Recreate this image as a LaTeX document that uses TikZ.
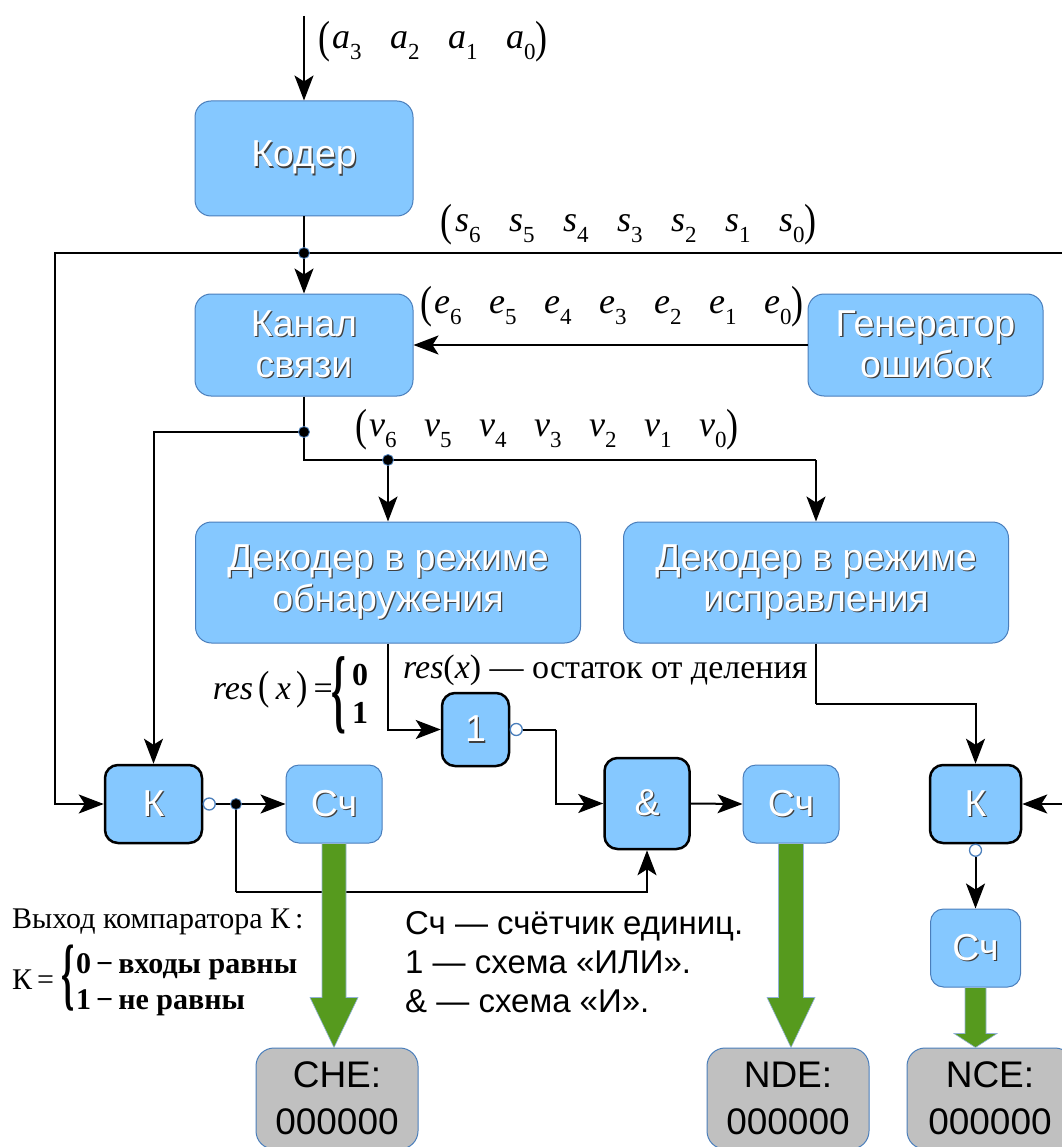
\documentclass[tikz,border=0pt]{standalone}
\usepackage{fontspec}
\usepackage{graphicx}
\setmainfont{Liberation Serif}
\newfontfamily\sansf{Liberation Sans}
\usetikzlibrary{arrows.meta,calc}
\definecolor{boxblue}{RGB}{133,200,255}
\definecolor{boxedge}{RGB}{74,126,187}
\definecolor{arrgreen}{RGB}{86,154,30}
\definecolor{cntgray}{RGB}{192,192,192}
\newcommand\sh[1]{\makebox[0pt][l]{\kern1.3pt\raisebox{-1.3pt}{\color{black!75}#1}}\textcolor{white}{#1}}
\newcommand\vsub[2]{\textit{#1}\raisebox{-0.3em}{\fontsize{23}{23}\selectfont #2}}
\newcommand\lpr{\raisebox{-0.12em}{\scalebox{1}[1.25]{(}}}
\newcommand\rpr{\raisebox{-0.12em}{\scalebox{1}[1.25]{)}}}
\newcommand\itm[3]{\makebox[#1][l]{\vsub{#2}{#3}}}
\begin{document}
\begin{tikzpicture}[x=1pt,y=-1pt,
  box/.style={rounded corners=16pt, fill=boxblue, draw=boxedge, line width=1pt,
    font=\sansf\fontsize{37.5}{41}\selectfont, align=center, inner sep=0pt},
  gate/.style={box, rounded corners=13pt, draw=black, line width=2.5pt},
  smallbox/.style={box, rounded corners=13pt},
  cnt/.style={rounded corners=18pt, fill=cntgray, draw=boxedge, line width=1pt,
    font=\sansf\fontsize{37}{47}\selectfont, align=center, inner sep=0pt},
  wire/.style={line width=2pt},
  arr/.style={wire, -{Stealth[length=25pt,width=19pt,inset=6pt]}},
  dot/.style={circle, fill=black, draw=boxedge, line width=0.8pt, inner sep=0pt, minimum size=11pt},
  inv/.style={circle, fill=white, draw=boxedge, line width=1.3pt, inner sep=0pt, minimum size=12pt},
  garrow/.style={fill=arrgreen, draw=boxedge!60, line width=0.6pt},
  lbl/.style={inner sep=0pt, font=\fontsize{36}{36}\selectfont},
  brace/.style={inner sep=0pt}
]
\useasboundingbox (0,0) rectangle (1061,1147);

% blocks
\node[box, minimum width=218pt, minimum height=115pt] (cod) at (304,158.5) {\sh{Кодер}};
\node[box, minimum width=218pt, minimum height=102pt] (chan) at (304,345) {\sh{Канал}\\\sh{связи}};
\node[box, minimum width=235pt, minimum height=102pt] (gen) at (925.5,345) {\sh{Генератор}\\\sh{ошибок}};
\node[box, minimum width=385pt, minimum height=121pt] (ddet) at (388,582.5) {\sh{Декодер в режиме}\\\sh{обнаружения}};
\node[box, minimum width=385pt, minimum height=121pt] (dcor) at (816,582.5) {\sh{Декодер в режиме}\\\sh{исправления}};
\node[gate, minimum width=97pt, minimum height=78pt] (k1) at (153.5,804) {\sh{К}};
\node[smallbox, minimum width=96pt, minimum height=78pt] (c1) at (334,804) {\sh{Сч}};
\node[gate, minimum width=67pt, minimum height=73pt] (or) at (475.5,729.5) {\sh{1}};
\node[gate, minimum width=85pt, minimum height=91pt] (and) at (647,803.5) {\sh{\&}};
\node[smallbox, minimum width=96pt, minimum height=78pt] (c2) at (791,804) {\sh{Сч}};
\node[gate, minimum width=91pt, minimum height=78pt] (k2) at (975.5,804) {\sh{К}};
\node[smallbox, minimum width=90pt, minimum height=78pt] (c3) at (975.5,948) {\sh{Сч}};
\node[cnt, minimum width=162pt, minimum height=101pt] (che) at (337,1098.5) {CHE:\\000000};
\node[cnt, minimum width=162pt, minimum height=101pt] (nde) at (788,1098.5) {NDE:\\000000};
\node[cnt, minimum width=166pt, minimum height=101pt] (nce) at (990,1098.5) {NCE:\\000000};

% inversion circles
\node[inv] (i1) at ($(k1.east)+(6,0)$) {};
\node[inv] (i2) at ($(or.east)+(6,0)$) {};
\node[inv] (i3) at ($(k2.south)+(0,6)$) {};

% junction coordinates
\coordinate (in) at (304,16);
\coordinate (j1) at (304,253);
\coordinate (lc) at (55,253);
\coordinate (rc) at (1085,253);
\coordinate (j2) at (304,432);
\coordinate (t1) at (304,460);
\coordinate (j3) at (388,460);
\coordinate (t2) at (816,460);
\coordinate (t3) at (556,729.5);
\coordinate (j4) at (236,804);
\coordinate (t4) at (236,892);
\coordinate (t5) at (816,704);

% wires
\draw[arr] (in) -- (cod.north);
\draw[wire] (cod.south) -- (j1);
\draw[arr] (j1) -- (chan.north);
\draw[arr] (j1) -- (lc) |- (k1.west);
\draw[arr] (j1) -- (rc) |- (k2.east);
\draw[arr] (gen.west) -- (chan.east);
\draw[wire] (chan.south) -- (t1) -- (t2);
\draw[arr] (t2) -- (dcor.north);
\draw[arr] (j3) -- (ddet.north);
\draw[arr] (j2) -| (k1.north);
\draw[arr] (ddet.south) |- (or.west);
\draw[wire] (i2.east) -- (t3);
\draw[arr] (t3) |- (and.west);
\draw[wire] (i1.east) -- (j4);
\draw[arr] (j4) -- (c1.west);
\draw[wire] (j4) -- (t4);
\draw[arr] (t4) -| (and.south);
\draw[arr] (and.east) -- (c2.west);
\draw[wire] (dcor.south) -- (t5);
\draw[arr] (t5) -| (k2.north);
\draw[arr] (i3.south) -- (c3.north);

% dots
\node[dot] (d1) at (j1) {};
\node[dot] (d2) at (j2) {};
\node[dot] (d3) at (j3) {};
\node[dot] (d4) at (j4) {};

% green arrows
\path[garrow] ($(c1.south)+(-12,0)$) -- ($(c1.south)+(-12,154)$) -- ($(c1.south)+(-24,154)$)
  -- (c1.south |- che.north) -- ($(c1.south)+(24,154)$) -- ($(c1.south)+(12,154)$) -- ($(c1.south)+(12,0)$) -- cycle;
\path[garrow] ($(c2.south)+(-12.5,0)$) -- ($(c2.south)+(-12.5,154)$) -- ($(c2.south)+(-24,154)$)
  -- (c2.south |- nde.north) -- ($(c2.south)+(24,154)$) -- ($(c2.south)+(12.5,154)$) -- ($(c2.south)+(12.5,0)$) -- cycle;
\path[garrow] ($(c3.south)+(-10.5,0)$) -- ($(c3.south)+(-10.5,46)$) -- ($(c3.south)+(-21.5,46)$)
  -- (c3.south |- nce.north) -- ($(c3.south)+(21.5,46)$) -- ($(c3.south)+(10.5,46)$) -- ($(c3.south)+(10.5,0)$) -- cycle;

% vector labels
\node[lbl, anchor=west] (la) at (318,42) {\lpr\hspace{2pt}\itm{58pt}{a}{3}\itm{58pt}{a}{2}\itm{58pt}{a}{1}\vsub{a}{0}\rpr};
\node[lbl, anchor=west] (ls) at (440,225) {\lpr\hspace{3pt}\itm{54pt}{s}{6}\itm{54pt}{s}{5}\itm{54pt}{s}{4}\itm{54pt}{s}{3}\itm{54pt}{s}{2}\itm{54pt}{s}{1}\vsub{s}{0}\rpr};
\node[lbl, anchor=west] (le) at (420,307) {\lpr\hspace{2pt}\itm{55pt}{e}{6}\itm{55pt}{e}{5}\itm{55pt}{e}{4}\itm{55pt}{e}{3}\itm{55pt}{e}{2}\itm{55pt}{e}{1}\vsub{e}{0}\rpr};
\node[lbl, anchor=west] (lv) at (355,430) {\lpr\hspace{2pt}\itm{55pt}{v}{6}\itm{55pt}{v}{5}\itm{55pt}{v}{4}\itm{55pt}{v}{3}\itm{55pt}{v}{2}\itm{55pt}{v}{1}\vsub{v}{0}\rpr};

% res texts
\node[inner sep=0pt, anchor=west, font=\fontsize{34}{34}\selectfont] (rdesc) at (403,670) {\textit{res}(\textit{x}) — остаток от деления};
\node[inner sep=0pt, anchor=east, font=\fontsize{34}{34}\selectfont] (rf) at (333,690) {\textit{res}\,\scalebox{1}[1.2]{(}\,\textit{x}\,\scalebox{1}[1.2]{)}\,=};
\node[brace] (rbr) at (339,695) {\scalebox{1.1}[2.75]{\fontsize{34}{34}\selectfont\bfseries\{}};
\node[inner sep=0pt, anchor=west, font=\fontsize{32}{38}\selectfont\bfseries] (rb) at (352,697) {\begin{tabular}{@{}l@{}}0\\1\end{tabular}};

% comparator legend
\node[inner sep=0pt, anchor=west, font=\fontsize{30}{30}\selectfont] (kt) at (12,922) {Выход компаратора К\,:};
\node[inner sep=0pt, anchor=west, font=\fontsize{30}{30}\selectfont] (keq) at (12,980) {К\,=};
\node[brace] (kbr) at (68,978) {\scalebox{1.05}[2.5]{\fontsize{32}{32}\selectfont\bfseries\{}};
\node[inner sep=0pt, anchor=west, font=\fontsize{30}{36}\selectfont\bfseries] (kb) at (76,984) {\begin{tabular}{@{}l@{}}0\,−\,входы равны\\1\,−\,не равны\end{tabular}};

% symbols legend
\node[inner sep=0pt, anchor=west, align=left, font=\sansf\fontsize{33}{39}\selectfont] (leg) at (405,962) {Сч — счётчик единиц.\\1 — схема «ИЛИ».\\\& — схема «И».};
\end{tikzpicture}
\end{document}
